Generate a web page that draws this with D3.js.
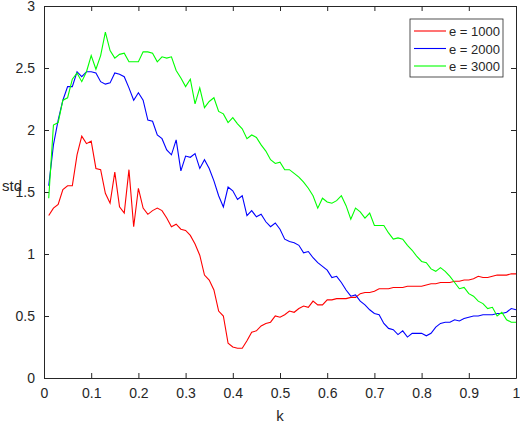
<!DOCTYPE html>
<html><head><meta charset="utf-8">
<script src="https://cdn.jsdelivr.net/npm/d3@7"></script>
<style>body{margin:0;background:#fff}text{font-family:"Liberation Sans",Arial,sans-serif;fill:#262626}</style>
</head><body><div id="chart"></div>
<script>
// k = 0.01 .. 1.00
var kValues = d3.range(1, 101).map(i => i / 100)
var red = [1.31,1.37,1.40,1.52,1.55,1.55,1.80,1.95,1.89,1.91,1.69,1.68,1.49,1.41,1.66,1.38,1.33,1.68,1.22,1.53,
  1.37,1.32,1.35,1.37,1.35,1.29,1.22,1.24,1.20,1.19,1.15,1.08,0.99,0.83,0.79,0.71,0.54,0.50,0.28,0.25,
  0.24,0.24,0.30,0.37,0.38,0.42,0.44,0.45,0.50,0.49,0.51,0.54,0.53,0.56,0.58,0.57,0.62,0.59,0.59,0.63,
  0.63,0.64,0.64,0.64,0.65,0.65,0.68,0.69,0.69,0.70,0.72,0.72,0.72,0.73,0.73,0.73,0.74,0.74,0.74,0.74,
  0.75,0.76,0.76,0.77,0.77,0.77,0.78,0.78,0.79,0.79,0.80,0.82,0.81,0.81,0.82,0.83,0.83,0.83,0.84,0.84]
var blue = [1.55,1.88,2.08,2.24,2.35,2.35,2.47,2.43,2.47,2.47,2.46,2.39,2.37,2.38,2.46,2.45,2.43,2.34,2.24,2.30,
  2.24,2.08,2.07,1.96,1.93,1.84,1.80,1.92,1.67,1.79,1.78,1.81,1.69,1.76,1.69,1.59,1.47,1.38,1.54,1.51,
  1.44,1.47,1.31,1.35,1.30,1.32,1.26,1.22,1.25,1.20,1.12,1.10,1.09,1.07,1.01,1.02,0.97,0.93,0.90,0.87,
  0.81,0.82,0.77,0.71,0.66,0.67,0.62,0.59,0.55,0.52,0.51,0.44,0.40,0.39,0.35,0.38,0.33,0.36,0.36,0.36,
  0.34,0.36,0.41,0.44,0.45,0.45,0.47,0.46,0.48,0.49,0.50,0.50,0.51,0.51,0.51,0.52,0.52,0.53,0.56,0.55]
var green = [1.45,2.04,2.06,2.24,2.26,2.41,2.46,2.39,2.47,2.60,2.49,2.60,2.79,2.64,2.58,2.61,2.62,2.55,2.55,2.55,
  2.63,2.63,2.62,2.55,2.59,2.58,2.59,2.48,2.42,2.35,2.41,2.21,2.34,2.18,2.23,2.26,2.15,2.13,2.06,2.10,
  2.05,2.01,1.93,1.96,1.94,1.88,1.83,1.76,1.73,1.74,1.68,1.68,1.65,1.62,1.58,1.53,1.47,1.37,1.45,1.42,
  1.41,1.43,1.47,1.39,1.28,1.37,1.34,1.29,1.33,1.23,1.23,1.23,1.17,1.12,1.13,1.12,1.07,1.03,0.98,0.94,
  0.93,0.88,0.86,0.89,0.86,0.82,0.77,0.72,0.73,0.68,0.66,0.62,0.60,0.56,0.57,0.50,0.53,0.47,0.45,0.45]
var seriesNames = ["e = 1000", "e = 2000", "e = 3000"]
var seriesColors = ["#ff0000", "#0000ff", "#00ff00"]
var xTicks = [0,0.1,0.2,0.3,0.4,0.5,0.6,0.7,0.8,0.9,1]
var yTicks = [0,0.5,1,1.5,2,2.5,3]

var margin = {top: 6, right: 4, bottom: 46, left: 44},
    width = 520 - margin.left - margin.right,
    height = 424 - margin.top - margin.bottom

var svg = d3.select("#chart").append("svg")
    .attr("width", 520).attr("height", 424)
  .append("g")
    .attr("transform", "translate(" + margin.left + "," + margin.top + ")")

var x = d3.scaleLinear().domain([0, 1]).range([0, width])
var y = d3.scaleLinear().domain([0, 3]).range([height, 0])

// axes, ticks inward on all four sides
function styleAxis(g) {
  g.selectAll("path").attr("stroke", "#262626")
  g.selectAll("line").attr("stroke", "#262626")
  g.selectAll("text").style("font-size", "14px")
}
svg.append("g").attr("transform", "translate(0," + height + ")")
  .call(d3.axisBottom(x).tickValues(xTicks).tickFormat(d3.format("")).tickSizeInner(-5).tickSizeOuter(0).tickPadding(10))
  .call(styleAxis)
svg.append("g")
  .call(d3.axisLeft(y).tickValues(yTicks).tickFormat(d3.format("")).tickSizeInner(-5).tickSizeOuter(0).tickPadding(9))
  .call(styleAxis)
svg.append("g")
  .call(d3.axisTop(x).tickValues(xTicks).tickFormat("").tickSizeInner(-5).tickSizeOuter(0))
  .call(styleAxis)
svg.append("g").attr("transform", "translate(" + width + ",0)")
  .call(d3.axisRight(y).tickValues(yTicks).tickFormat("").tickSizeInner(-5).tickSizeOuter(0))
  .call(styleAxis)

svg.append("text").attr("x", width / 2).attr("y", height + 43)
  .attr("text-anchor", "middle").style("font-size", "15px").text("k")
svg.append("text").attr("x", -42).attr("y", 185)
  .style("font-size", "15px").text("std")

var line = d3.line().x((d, i) => x(kValues[i])).y(d => y(d))
;[red, blue, green].forEach(function(s, i) {
  svg.append("path").datum(s)
    .attr("fill", "none").attr("stroke", seriesColors[i]).attr("stroke-width", 1.1)
    .attr("d", line)
})

// legend
var lg = svg.append("g").attr("transform", "translate(366,13)")
lg.append("rect").attr("width", 93).attr("height", 58)
  .attr("fill", "#fff").attr("stroke", "#262626").attr("stroke-width", 0.8)
seriesNames.forEach(function(n, i) {
  var yy = 12 + i * 17.5
  lg.append("line").attr("x1", 4).attr("x2", 36).attr("y1", yy).attr("y2", yy)
    .attr("stroke", seriesColors[i]).attr("stroke-width", 1.1)
  lg.append("text").attr("x", 39).attr("y", yy + 5).style("font-size", "13px").text(n)
})
</script></body></html>
